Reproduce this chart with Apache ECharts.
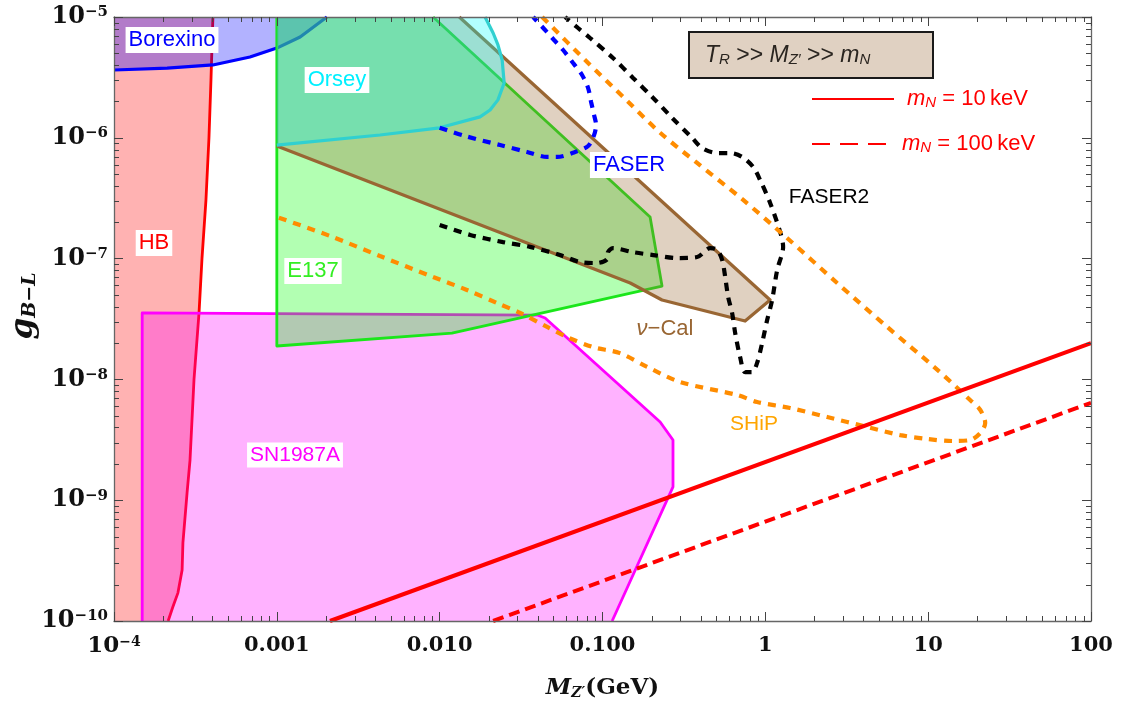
<!DOCTYPE html>
<html><head><meta charset="utf-8">
<script src="https://cdn.jsdelivr.net/npm/echarts@6/dist/echarts.min.js"></script>
<style>html,body{margin:0;padding:0;background:#fff}#c{width:1123px;height:709px}</style>
</head><body><div id="c"></div>
<script>
// ---------- axis ranges and tick labels ----------
const xRange = [1e-4, 100];
const yRange = [1e-10, 1e-5];
const xTickLabels = ['10^−4', '0.001', '0.010', '0.100', '1', '10', '100'];   // decades -4 .. 2
const yTickLabels = ['10^−10', '10^−9', '10^−8', '10^−7', '10^−6', '10^−5']; // decades -10 .. -5

// ---------- excluded regions (M_Z' [GeV], g_B-L) ----------
const hbCurve = [[4.05e-4,1e-5],[3.94e-4,3.01e-6],[3.83e-4,1.0e-6],[3.67e-4,3.05e-7],[3.47e-4,1.0e-7],
  [3.33e-4,3.61e-8],[3.10e-4,1.0e-8],[2.93e-4,2.15e-9],[2.81e-4,1.15e-9],[2.65e-4,4.43e-10],
  [2.62e-4,2.64e-10],[2.47e-4,1.71e-10],[2.30e-4,1.31e-10],[2.15e-4,1e-10]];
const borexinoCurve = [[1e-4,3.64e-6],[2.12e-4,3.78e-6],[4.05e-4,4.01e-6],[6.84e-4,4.67e-6],
  [1.0e-3,5.53e-6],[1.39e-3,6.83e-6],[2.03e-3,1e-5]];
const e137Edge = [[9.11e-3,1e-5],[0.196,2.21e-7],[0.232,5.93e-8],[1.19e-2,2.42e-8],[1e-3,1.89e-8],[1e-3,1e-5]];
const nuCalEdge = [[1.32e-2,1e-5],[1.07,4.54e-8],[0.751,3.04e-8],[0.232,4.54e-8],[0.148,6.28e-8],[1e-3,8.55e-7]];
const orseyCurve = [[1e-3,8.71e-7],[4.30e-3,1.055e-6],[1.0e-2,1.21e-6],[1.77e-2,1.49e-6],[2.04e-2,1.70e-6],
  [2.28e-2,2.06e-6],[2.49e-2,2.84e-6],[2.42e-2,4.41e-6],[2.28e-2,5.87e-6],[2.13e-2,7.37e-6],[1.90e-2,1e-5]];
const sn1987aEdge = [[1.49e-4,1e-10],[1.49e-4,3.55e-8],[3.97e-2,3.41e-8],[4.44e-2,3.22e-8],[0.226,4.44e-9],
  [0.271,3.15e-9],[0.271,1.29e-9],[0.1146,1e-10]];

// ---------- projected sensitivities ----------
const faser = [[1.0e-2,1.21e-6],[1.43e-2,1.035e-6],[2.35e-2,8.71e-7],[3.44e-2,7.63e-7],[4.57e-2,6.94e-7],
  [5.26e-2,6.94e-7],[6.79e-2,7.63e-7],[8.16e-2,8.55e-7],[8.88e-2,1.055e-6],[9.13e-2,1.28e-6],[8.88e-2,1.54e-6],
  [8.51e-2,1.98e-6],[8.16e-2,2.58e-6],[7.49e-2,3.31e-6],[6.60e-2,4.16e-6],[5.73e-2,5.33e-6],[5.04e-2,6.45e-6],
  [4.44e-2,7.81e-6],[3.75e-2,1e-5]];
const faser2 = [[1.0e-2,1.90e-7],[1.54e-2,1.57e-7],[2.45e-2,1.37e-7],[3.59e-2,1.25e-7],[5.49e-2,1.07e-7],
  [7.29e-2,9.37e-8],[9.26e-2,9.19e-8],[0.107,9.92e-8],[0.108,1.13e-7],[0.116,1.22e-7],[0.154,1.13e-7],
  [0.205,1.07e-7],[0.287,1.01e-7],[0.381,1.03e-7],[0.458,1.22e-7],[0.506,1.18e-7],[0.543,9.74e-8],
  [0.567,7.04e-8],[0.591,4.81e-8],[0.625,3.55e-8],[0.653,2.42e-8],[0.700,1.53e-8],[0.751,1.15e-8],
  [0.830,1.15e-8],[0.890,1.37e-8],[0.956,2.0e-8],[1.026,3.10e-8],[1.101,4.54e-8],[1.182,8.04e-8],
  [1.286,1.25e-7],[1.233,1.66e-7],[1.070,2.89e-7],[0.929,4.47e-7],[0.842,5.73e-7],[0.720,6.94e-7],
  [0.608,7.48e-7],[0.506,7.48e-7],[0.409,8.23e-7],[0.355,1.0e-6],[0.268,1.46e-6],[0.202,2.18e-6],
  [0.154,3.13e-6],[0.116,4.58e-6],[8.39e-2,6.70e-6],[7.08e-2,8.11e-6],[5.89e-2,1e-5]];
const ship = [[4.26e-2,1e-5],[7.82e-2,4.41e-6],[0.144,1.98e-6],[0.226,1.10e-6],[0.381,6.19e-7],[0.731,3.06e-7],
  [1.36,1.48e-7],[2.76,6.28e-8],[5.60,2.72e-8],[11.4,1.20e-8],[18.1,6.75e-9],[20.9,5.58e-9],[22.4,4.36e-9],
  [20.9,3.60e-9],[18.1,3.15e-9],[14.2,3.09e-9],[9.86,3.21e-9],[6.73,3.46e-9],[4.22,4.04e-9],[2.40,4.88e-9],
  [1.42,5.80e-9],[0.890,6.50e-9],[0.671,7.43e-9],[0.300,9.52e-9],[0.188,1.27e-8],[0.128,1.65e-8],
  [8.76e-2,1.85e-8],[6.06e-2,2.24e-8],[4.57e-2,2.72e-8],[3.12e-2,3.55e-8],[2.25e-2,4.29e-8],
  [1.47e-2,5.50e-8],[9.11e-3,7.04e-8],[4.30e-3,1.05e-7],[2.12e-3,1.54e-7],[1.0e-3,2.21e-7]];

// ---------- relic-abundance lines ----------
const mN10keV = [[2.12e-3,1e-10],[100,2.0e-8]];
const mN100keV = [[2.13e-2,1e-10],[100,6.4e-9]];

// ---------- rendering ----------
const SERIF = "'DejaVu Serif', 'Liberation Serif', serif";
const SANS = "'Liberation Sans', Arial, sans-serif";
const chart = echarts.init(document.getElementById('c'));

function regionSeries(name, fillPts, linePts, fill, stroke, lw) {
  return {
    type: 'custom', name, silent: true, xAxisIndex: 0, yAxisIndex: 0, z: 2,
    data: [fillPts[0]],
    renderItem: function (params, api) {
      return { type: 'group', children: [
        { type: 'polygon', shape: { points: fillPts.map(p => api.coord(p)) }, style: { fill: fill, stroke: null } },
        { type: 'polyline', shape: { points: linePts.map(p => api.coord(p)) },
          style: { stroke: stroke, lineWidth: lw, fill: null, lineJoin: 'round' } }
      ] };
    }
  };
}
function dashed(name, data, color, dash, width, smooth) {
  return { type: 'line', name, data, symbol: 'none', smooth: smooth, z: 4, silent: true,
    lineStyle: { color: color, width: width, type: dash, cap: 'butt' } };
}
function fmtPow(s, big, small) {
  if (s.indexOf('^') < 0) return '{' + big + '|' + s + '}';
  const p = s.split('^');
  return '{' + big + '|' + p[0] + '}{' + small + '|' + p[1] + '}';
}
const minorFactors = [2, 3, 4, 5, 6, 7, 8, 9];
function minors(e0, e1) { const o = []; for (let e = e0; e < e1; e++) minorFactors.forEach(f => o.push(f * Math.pow(10, e))); return o; }
const xMinor = minors(-4, 2), yMinor = minors(-10, -5);

const axisCommon = {
  type: 'log', logBase: 10, splitLine: { show: false }, z: 6,
  axisLine: { show: true, lineStyle: { color: '#666', width: 1.3 } },
  axisTick: { show: true, inside: true, length: 9, lineStyle: { color: '#444', width: 1 } },
  minorTick: { show: false }
};
const richX = {
  bx: { fontFamily: SERIF, fontWeight: 'bold', fontSize: 21, color: '#111' },
  bb: { fontFamily: SERIF, fontWeight: 'bold', fontSize: 23, color: '#111' },
  sx: { fontFamily: SERIF, fontWeight: 'bold', fontSize: 14, color: '#111', verticalAlign: 'top' }
};
const richY = {
  by: { fontFamily: SERIF, fontWeight: 'bold', fontSize: 24, color: '#111' },
  sy: { fontFamily: SERIF, fontWeight: 'bold', fontSize: 15, color: '#111', verticalAlign: 'top' }
};

const option = {
  animation: false,
  backgroundColor: '#fff',
  grid: { left: 114, right: 32, top: 17, bottom: 88 },
  xAxis: [
    Object.assign({}, axisCommon, { min: xRange[0], max: xRange[1], position: 'bottom',
      axisLabel: { margin: 14, rich: richX,
        formatter: v => { const e = Math.round(Math.log10(v)); const s = xTickLabels[e + 4];
          return s.indexOf('^') >= 0 ? fmtPow(s, 'bb', 'sx') : fmtPow(s, 'bx', 'sx'); } },
      name: '{i|M}{sub|Z′}{b|(GeV)}', nameLocation: 'middle', nameGap: 56,
      nameTextStyle: { rich: {
        i: { fontFamily: SERIF, fontWeight: 'bold', fontStyle: 'italic', fontSize: 23, color: '#111' },
        sub: { fontFamily: SERIF, fontWeight: 'bold', fontStyle: 'italic', fontSize: 14, color: '#111', verticalAlign: 'bottom' },
        b: { fontFamily: SERIF, fontWeight: 'bold', fontSize: 23, color: '#111' } } } }),
    Object.assign({}, axisCommon, { min: xRange[0], max: xRange[1], position: 'top', axisLabel: { show: false } })
  ],
  yAxis: [
    Object.assign({}, axisCommon, { min: yRange[0], max: yRange[1], position: 'left',
      axisLabel: { margin: 6, rich: richY,
        formatter: v => { const e = Math.round(Math.log10(v)); return fmtPow(yTickLabels[e + 10], 'by', 'sy'); } } }),
    Object.assign({}, axisCommon, { min: yRange[0], max: yRange[1], position: 'right', axisLabel: { show: false } })
  ],
  series: [
    regionSeries('HB', [[1e-4, 1e-5]].concat(hbCurve, [[1e-4, 1e-10]]), hbCurve,
      'rgba(255,0,0,0.3)', '#FF0000', 2.8),
    regionSeries('SN1987A', sn1987aEdge, sn1987aEdge, 'rgba(255,0,255,0.3)', '#FF00FF', 2.8),
    regionSeries('Borexino', borexinoCurve.concat([[1e-4, 1e-5]]), borexinoCurve,
      'rgba(0,0,255,0.3)', '#0000FF', 3.2),
    regionSeries('E137', e137Edge, e137Edge, 'rgba(0,255,0,0.3)', '#1AE61A', 2.8),
    regionSeries('nu-Cal', nuCalEdge.concat([[1e-3, 1e-5]]), nuCalEdge, 'rgba(153,102,51,0.3)', '#996633', 3.2),
    regionSeries('Orsey', orseyCurve.concat([[1e-3, 1e-5]]), orseyCurve, 'rgba(0,255,255,0.3)', '#30D0D0', 3.2),
    dashed('FASER', faser, '#0000FF', [8, 7], 4.2, 0.3),
    dashed('FASER2', faser2, '#000000', [8, 7], 4.2, 0.3),
    dashed('SHiP', ship, '#FF8C00', [8, 7], 4.2, 0.3),
    { type: 'line', name: 'mN=10keV', data: mN10keV, symbol: 'none', z: 5, silent: true,
      lineStyle: { color: '#FF0000', width: 4 } },
    dashed('mN=100keV', mN100keV, '#FF0000', [11, 6], 4, false),
    { type: 'custom', name: 'minor ticks', silent: true, z: 7, data: [[xRange[0], yRange[0]]],
      renderItem: function (params, api) {
        const bl = api.coord([xRange[0], yRange[0]]), tr = api.coord([xRange[1], yRange[1]]);
        const st = { stroke: '#444', lineWidth: 1 };
        const ch = [];
        xMinor.forEach(v => { const x = Math.round(api.coord([v, yRange[0]])[0]) + 0.5;
          ch.push({ type: 'line', shape: { x1: x, y1: bl[1], x2: x, y2: bl[1] - 5 }, style: st });
          ch.push({ type: 'line', shape: { x1: x, y1: tr[1], x2: x, y2: tr[1] + 5 }, style: st }); });
        yMinor.forEach(v => { const y = Math.round(api.coord([xRange[0], v])[1]) + 0.5;
          ch.push({ type: 'line', shape: { x1: bl[0], y1: y, x2: bl[0] + 5, y2: y }, style: st });
          ch.push({ type: 'line', shape: { x1: tr[0], y1: y, x2: tr[0] - 5, y2: y }, style: st }); });
        return { type: 'group', children: ch };
      } }
  ],
  graphic: [
    // y-axis title
    { type: 'text', x: 24, y: 306, rotation: Math.PI / 2, z: 100,
      style: { text: '{g|g}{s|B−L}', align: 'center', verticalAlign: 'middle',
        rich: { g: { fontFamily: SERIF, fontWeight: 'bold', fontStyle: 'italic', fontSize: 31, fill: '#111' },
                s: { fontFamily: SERIF, fontWeight: 'bold', fontStyle: 'italic', fontSize: 19, fill: '#111', verticalAlign: 'bottom' } } } },
    // region labels
    { type: 'text', x: 172, y: 40, z: 100, style: { text: 'Borexino', font: '22px ' + SANS, fill: '#0000FF', align: 'center', verticalAlign: 'middle', backgroundColor: '#fff', padding: [3, 3, 1, 3] } },
    { type: 'text', x: 337, y: 80, z: 100, style: { text: 'Orsey', font: '22px ' + SANS, fill: '#00F0FF', align: 'center', verticalAlign: 'middle', backgroundColor: '#fff', padding: [3, 3, 1, 3] } },
    { type: 'text', x: 154, y: 243, z: 100, style: { text: 'HB', font: '22px ' + SANS, fill: '#FF0000', align: 'center', verticalAlign: 'middle', backgroundColor: '#fff', padding: [3, 3, 1, 3] } },
    { type: 'text', x: 313, y: 271, z: 100, style: { text: 'E137', font: '22px ' + SANS, fill: '#33EE22', align: 'center', verticalAlign: 'middle', backgroundColor: '#fff', padding: [3, 3, 1, 3] } },
    { type: 'text', x: 295, y: 455, z: 100, style: { text: 'SN1987A', font: '21px ' + SANS, fill: '#FF00FF', align: 'center', verticalAlign: 'middle', backgroundColor: '#fff', padding: [3, 3, 1, 3] } },
    { type: 'text', x: 629, y: 165, z: 100, style: { text: 'FASER', font: '22px ' + SANS, fill: '#0000FF', align: 'center', verticalAlign: 'middle', backgroundColor: '#fff', padding: [3, 3, 1, 3] } },
    { type: 'text', x: 829, y: 197, z: 100, style: { text: 'FASER2', font: '21px ' + SANS, fill: '#000', align: 'center', verticalAlign: 'middle' } },
    { type: 'text', x: 665, y: 329, z: 100, style: { text: '{i|ν}{n|−Cal}', align: 'center', verticalAlign: 'middle',
        rich: { i: { fontFamily: SANS, fontStyle: 'italic', fontSize: 22, fill: '#996633' }, n: { fontFamily: SANS, fontSize: 22, fill: '#996633' } } } },
    { type: 'text', x: 754, y: 424, z: 100, style: { text: 'SHiP', font: '21px ' + SANS, fill: '#FFA500', align: 'center', verticalAlign: 'middle' } },
    // scenario box
    { type: 'rect', z: 100, shape: { x: 689, y: 32, width: 244, height: 46 }, style: { fill: '#E0D1C2', stroke: '#1a1a1a', lineWidth: 2 } },
    { type: 'text', x: 705, y: 56, z: 101, style: { text: '{i|T}{s|R}{n| >> }{i|M}{s|Z′}{n| >> }{i|m}{s|N}', align: 'left', verticalAlign: 'middle',
        rich: { i: { fontFamily: SANS, fontStyle: 'italic', fontSize: 23, fill: '#2a2520' },
                n: { fontFamily: SANS, fontSize: 23, fill: '#2a2520' },
                s: { fontFamily: SANS, fontStyle: 'italic', fontSize: 15, fill: '#2a2520', verticalAlign: 'bottom' } } } },
    // line legend
    { type: 'line', z: 100, shape: { x1: 812, y1: 99, x2: 894, y2: 99 }, style: { stroke: '#FF0000', lineWidth: 2 } },
    { type: 'text', x: 907, y: 99, z: 100, style: { text: '{i|m}{s|N}{n| = 10\u2009keV}', align: 'left', verticalAlign: 'middle',
        rich: { i: { fontFamily: SANS, fontStyle: 'italic', fontSize: 22, fill: '#FF0000' },
                n: { fontFamily: SANS, fontSize: 22, fill: '#FF0000' },
                s: { fontFamily: SANS, fontStyle: 'italic', fontSize: 15, fill: '#FF0000', verticalAlign: 'bottom' } } } },
    { type: 'line', z: 100, shape: { x1: 812, y1: 144, x2: 886, y2: 144 }, style: { stroke: '#FF0000', lineWidth: 2, lineDash: [18, 10] } },
    { type: 'text', x: 902, y: 144, z: 100, style: { text: '{i|m}{s|N}{n| = 100\u2009keV}', align: 'left', verticalAlign: 'middle',
        rich: { i: { fontFamily: SANS, fontStyle: 'italic', fontSize: 22, fill: '#FF0000' },
                n: { fontFamily: SANS, fontSize: 22, fill: '#FF0000' },
                s: { fontFamily: SANS, fontStyle: 'italic', fontSize: 15, fill: '#FF0000', verticalAlign: 'bottom' } } } }
  ]
};
chart.setOption(option);
</script></body></html>
